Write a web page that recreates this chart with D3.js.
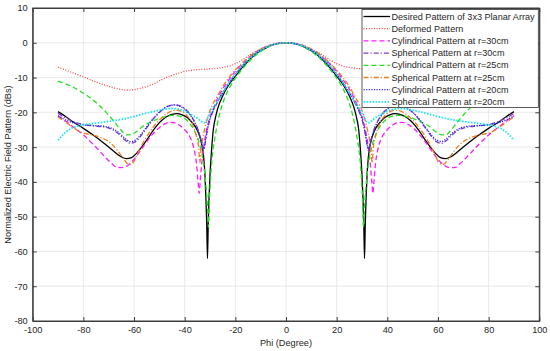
<!DOCTYPE html>
<html>
<head>
<meta charset="utf-8">
<script src="https://cdn.jsdelivr.net/npm/d3@7"></script>
<style>
    body { margin: 0; background: #fff; }
    svg { display: block; }
    text { font-family: Arial, "Liberation Sans", Helvetica, sans-serif; fill: #262626; }
</style>
</head>
<body>
<div id="chart"></div>
<script>
// Values: [phi (deg), normalized field (dB)]
const desired = [[-90,-19.8],[-87,-21.2],[-84,-22.8],[-80,-24.6],[-76,-26.6],[-72,-28.8],[-68,-31.2],[-65,-32.8],[-63,-33.3],[-61,-33],[-59,-31.8],[-57,-30],[-55,-28],[-53,-25.8],[-51,-23.8],[-49,-22.3],[-47,-21.2],[-45,-20.6],[-43,-20.4],[-41,-20.7],[-39,-21.5],[-37,-23],[-35,-25.2],[-33.5,-28.5],[-32.5,-33],[-32,-38],[-31.6,-45],[-31.3,-52],[-31,-62],[-30.7,-52],[-30.4,-45],[-30,-38],[-29.4,-31],[-28.7,-25],[-28,-22],[-27,-19],[-25,-15.3],[-22.5,-12],[-20,-9.6],[-17.5,-7.3],[-15,-5.3],[-12.5,-3.6],[-10,-2.3],[-7.5,-1.3],[-5,-0.55],[-2.5,-0.15],[0,0],
    [2.5,-0.15],[5,-0.55],[7.5,-1.3],[10,-2.3],[12.5,-3.6],[15,-5.3],[17.5,-7.3],[20,-9.6],[22.5,-12],[25,-15.3],[27,-19],[28,-22],[28.7,-25],[29.4,-31],[30,-38],[30.4,-45],[30.7,-52],[31,-62],[31.3,-52],[31.6,-45],[32,-38],[32.5,-33],[33.5,-28.5],[35,-25.2],[37,-23],[39,-21.5],[41,-20.7],[43,-20.4],[45,-20.6],[47,-21.2],[49,-22.3],[51,-23.8],[53,-25.8],[55,-28],[57,-30],[59,-31.8],[61,-33],[63,-33.3],[65,-32.8],[68,-31.2],[72,-28.8],[76,-26.6],[80,-24.6],[84,-22.8],[87,-21.2],[90,-19.8]];

const deformed = [[-90,-7],[-85,-8.4],[-80,-9.8],[-75,-11.3],[-70,-12.5],[-66,-13.3],[-62,-13.6],[-58,-13.2],[-55,-12.6],[-52,-11.7],[-49,-10.6],[-46,-9.6],[-43,-8.9],[-40,-8.2],[-36,-7.8],[-32,-7.6],[-28,-7.4],[-25,-7.1],[-22,-6.6],[-20,-6],[-17.5,-5],[-15,-3.8],[-12.5,-2.7],[-10,-1.8],[-7.5,-1],[-5,-0.45],[-2.5,-0.1],[0,0],
    [2.5,-0.1],[5,-0.45],[7.5,-1],[10,-1.8],[12.5,-2.7],[15,-3.8],[17.5,-5],[20,-6],[22,-6.6],[25,-7.1],[28,-7.4],[32,-7.6],[36,-7.8],[40,-8.2],[43,-8.9],[46,-9.6],[49,-10.6],[52,-11.7],[55,-12.6],[58,-13.2],[62,-13.6],[66,-13.3],[70,-12.5],[75,-11.3],[80,-9.8],[85,-8.4],[90,-7]];

const cyl30 = [[-90,-21],[-87,-22.5],[-84,-24.2],[-80,-26.5],[-76,-29.3],[-72,-32.4],[-69,-34.6],[-66.5,-35.9],[-64,-35.8],[-62,-35],[-60,-33.5],[-58,-31.6],[-56,-29.5],[-54,-27.5],[-52,-25.8],[-50,-24.4],[-48,-23.4],[-46,-22.9],[-44,-23],[-42,-23.7],[-40,-25],[-38,-27],[-36.5,-30],[-35.3,-35],[-34.7,-40],[-34.3,-43.3],[-33.9,-40],[-33.3,-35],[-32.5,-30],[-31.5,-25.5],[-30.3,-22],[-29,-19.5],[-27,-16],[-25,-13.3],[-22.5,-10.6],[-20,-8.2],[-17.5,-6.2],[-15,-4.5],[-12.5,-3],[-10,-1.9],[-7.5,-1],[-5,-0.45],[-2.5,-0.1],[0,0],
    [2.5,-0.1],[5,-0.45],[7.5,-1],[10,-1.9],[12.5,-3],[15,-4.5],[17.5,-6.2],[20,-8.2],[22.5,-10.6],[25,-13.3],[27,-16],[29,-19.5],[30.3,-22],[31.5,-25.5],[32.5,-30],[33.3,-35],[33.9,-40],[34.3,-43.3],[34.7,-40],[35.3,-35],[36.5,-30],[38,-27],[40,-25],[42,-23.7],[44,-23],[46,-22.9],[48,-23.4],[50,-24.4],[52,-25.8],[54,-27.5],[56,-29.5],[58,-31.6],[60,-33.5],[62,-35],[64,-35.8],[66.5,-35.9],[69,-34.6],[72,-32.4],[76,-29.3],[80,-26.5],[84,-24.2],[87,-22.5],[90,-21]];

const sph30 = [[-90,-20.3],[-87,-21.6],[-84,-22.6],[-80,-23.5],[-76,-23.9],[-72,-24.2],[-69,-24.8],[-66,-26.2],[-63.5,-28],[-61.5,-28.9],[-59.5,-28.5],[-57.5,-27],[-55,-24.5],[-52,-21.6],[-49,-19.4],[-46.5,-18.2],[-44,-17.8],[-41.5,-18.2],[-39,-19.6],[-37,-21.5],[-35,-24.5],[-33.5,-28],[-32.5,-31],[-31.8,-28.5],[-31,-25],[-30,-22],[-28.5,-19.2],[-27,-17],[-25,-14.5],[-22.5,-11.6],[-20,-9.1],[-17.5,-6.9],[-15,-5],[-12.5,-3.4],[-10,-2.1],[-7.5,-1.2],[-5,-0.5],[-2.5,-0.13],[0,0],
    [2.5,-0.13],[5,-0.5],[7.5,-1.2],[10,-2.1],[12.5,-3.4],[15,-5],[17.5,-6.9],[20,-9.1],[22.5,-11.6],[25,-14.5],[27,-17],[28.5,-19.2],[30,-22],[31,-25],[31.8,-28.5],[32.5,-31],[33.5,-28],[35,-24.5],[37,-21.5],[39,-19.6],[41.5,-18.2],[44,-17.8],[46.5,-18.2],[49,-19.4],[52,-21.6],[55,-24.5],[57.5,-27],[59.5,-28.5],[61.5,-28.9],[63.5,-28],[66,-26.2],[69,-24.8],[72,-24.2],[76,-23.9],[80,-23.5],[84,-22.6],[87,-21.6],[90,-20.3]];

const cyl25 = [[-90,-11],[-87,-11.8],[-84,-12.8],[-80,-14.5],[-77,-16],[-74,-17.8],[-71,-20],[-68,-22.5],[-65.5,-24.8],[-63,-26.5],[-61,-26.4],[-59,-25.5],[-56.5,-24],[-54,-23],[-51,-22],[-48,-21.3],[-45,-20.9],[-42.5,-21],[-40,-21.8],[-38,-23.2],[-36,-25.5],[-34,-29.5],[-32.5,-35],[-31.5,-42],[-31,-47],[-30.6,-53],[-30.2,-45],[-29.7,-38],[-29,-32],[-28,-27],[-27,-23],[-25.5,-18.6],[-24,-15.5],[-22,-12.5],[-20,-10.2],[-17.5,-7.8],[-15,-5.7],[-12.5,-3.9],[-10,-2.5],[-7.5,-1.4],[-5,-0.6],[-2.5,-0.15],[0,0],
    [2.5,-0.15],[5,-0.6],[7.5,-1.4],[10,-2.5],[12.5,-3.9],[15,-5.7],[17.5,-7.8],[20,-10.2],[22,-12.5],[24,-15.5],[25.5,-18.6],[27,-23],[28,-27],[29,-32],[29.7,-38],[30.2,-45],[30.6,-53],[31,-47],[31.5,-42],[32.5,-35],[34,-29.5],[36,-25.5],[38,-23.2],[40,-21.8],[42.5,-21],[45,-20.9],[48,-21.3],[51,-22],[54,-23],[56.5,-24],[59,-25.5],[61,-26.4],[63,-26.5],[65.5,-24.8],[68,-22.5],[71,-20],[74,-17.8],[77,-16],[80,-14.5],[84,-12.8],[87,-11.8],[90,-11]];

const sph25 = [[-90,-21.3],[-87,-22.8],[-84,-24.4],[-81,-25.7],[-78,-26.3],[-75,-26.8],[-72,-27.6],[-69,-29],[-66.5,-31],[-64,-33.5],[-62,-35],[-60.5,-34.6],[-59,-32.5],[-57,-29.5],[-55,-27],[-52.5,-24.3],[-50,-22.2],[-47.5,-20.6],[-45,-19.6],[-43,-19.4],[-41,-19.8],[-39,-21],[-37,-23.2],[-35.5,-26.5],[-34.5,-30],[-34,-34.5],[-33.6,-31],[-33,-28],[-32,-24.5],[-30.5,-20.5],[-29,-17.8],[-27,-15.2],[-25,-12.6],[-22.5,-10],[-20,-7.8],[-17.5,-6],[-15,-4.3],[-12.5,-2.9],[-10,-1.8],[-7.5,-1],[-5,-0.45],[-2.5,-0.1],[0,0],
    [2.5,-0.1],[5,-0.45],[7.5,-1],[10,-1.8],[12.5,-2.9],[15,-4.3],[17.5,-6],[20,-7.8],[22.5,-10],[25,-12.6],[27,-15.2],[29,-17.8],[30.5,-20.5],[32,-24.5],[33,-28],[33.6,-31],[34,-34.5],[34.5,-30],[35.5,-26.5],[37,-23.2],[39,-21],[41,-19.8],[43,-19.4],[45,-19.6],[47.5,-20.6],[50,-22.2],[52.5,-24.3],[55,-27],[57,-29.5],[59,-32.5],[60.5,-34.6],[62,-35],[64,-33.5],[66.5,-31],[69,-29],[72,-27.6],[75,-26.8],[78,-26.3],[81,-25.7],[84,-24.4],[87,-22.8],[90,-21.3]];

const cyl20 = [[-90,-21],[-87,-22.2],[-84,-23],[-80,-23.6],[-76,-23.8],[-72,-24],[-69,-24.5],[-66,-25.8],[-63.5,-27.5],[-61.5,-28.4],[-59.5,-28],[-57.5,-26.6],[-55,-24.2],[-52,-21.4],[-49,-19.3],[-46.5,-18.2],[-44,-17.9],[-41.5,-18.4],[-39,-19.8],[-37,-21.7],[-35,-24.6],[-33.5,-28],[-32.6,-30.5],[-31.8,-28],[-31,-24.8],[-30,-21.8],[-28.5,-19],[-27,-16.8],[-25,-14.3],[-22.5,-11.5],[-20,-9],[-17.5,-6.8],[-15,-4.9],[-12.5,-3.3],[-10,-2.1],[-7.5,-1.2],[-5,-0.5],[-2.5,-0.13],[0,0],
    [2.5,-0.13],[5,-0.5],[7.5,-1.2],[10,-2.1],[12.5,-3.3],[15,-4.9],[17.5,-6.8],[20,-9],[22.5,-11.5],[25,-14.3],[27,-16.8],[28.5,-19],[30,-21.8],[31,-24.8],[31.8,-28],[32.6,-30.5],[33.5,-28],[35,-24.6],[37,-21.7],[39,-19.8],[41.5,-18.4],[44,-17.9],[46.5,-18.2],[49,-19.3],[52,-21.4],[55,-24.2],[57.5,-26.6],[59.5,-28],[61.5,-28.4],[63.5,-27.5],[66,-25.8],[69,-24.5],[72,-24],[76,-23.8],[80,-23.6],[84,-23],[87,-22.2],[90,-21]];

const sph20 = [[-90,-28],[-88.5,-26.8],[-87,-25.7],[-85,-24.7],[-82.5,-24],[-80,-23.6],[-76,-23.2],[-72,-22.8],[-68,-22.4],[-64,-21.9],[-60,-21.2],[-56,-20.4],[-52,-19.7],[-48,-19.1],[-45,-18.9],[-42.5,-19.1],[-40,-19.7],[-37.5,-20.6],[-35,-21.7],[-33.5,-22.6],[-32.5,-23],[-31.5,-22.3],[-30.5,-21],[-29,-19],[-27,-16.8],[-25,-14.3],[-22.5,-11.5],[-20,-9],[-17.5,-6.8],[-15,-4.9],[-12.5,-3.3],[-10,-2.1],[-7.5,-1.2],[-5,-0.5],[-2.5,-0.13],[0,0],
    [2.5,-0.13],[5,-0.5],[7.5,-1.2],[10,-2.1],[12.5,-3.3],[15,-4.9],[17.5,-6.8],[20,-9],[22.5,-11.5],[25,-14.3],[27,-16.8],[29,-19],[30.5,-21],[31.5,-22.3],[32.5,-23],[33.5,-22.6],[35,-21.7],[37.5,-20.6],[40,-19.7],[42.5,-19.1],[45,-18.9],[48,-19.1],[52,-19.7],[56,-20.4],[60,-21.2],[64,-21.9],[68,-22.4],[72,-22.8],[76,-23.2],[80,-23.6],[82.5,-24],[85,-24.7],[87,-25.7],[88.5,-26.8],[90,-28]];

const seriesNames = [
    'Desired Pattern of 3x3 Planar Array',
    'Deformed Pattern',
    'Cylindrical Pattern at r=30cm',
    'Spherical Pattern at r=30cm',
    'Cylindrical Pattern at r=25cm',
    'Spherical Pattern at r=25cm',
    'Cylindrical Pattern at r=20cm',
    'Spherical Pattern at r=20cm'
];
const seriesData = [desired, deformed, cyl30, sph30, cyl25, sph25, cyl20, sph20];

const xTicks = [-100, -80, -60, -40, -20, 0, 20, 40, 60, 80, 100];
const yTicks = [10, 0, -10, -20, -30, -40, -50, -60, -70, -80];

// styles, kept apart from the data
const colors = ['#000000', '#ff3b3b', '#ff1aff', '#7e3fc6', '#22e022', '#ef7d1c', '#2a2af0', '#14e6f0'];
const dashes = [null, '1,1.6', '5,3', '5,2,1.2,2', '5,3', '5,2,1.2,2', '1.2,1.4', '1.5,1.5'];
const widths = [1.3, 1.2, 1.3, 1.3, 1.3, 1.3, 1.3, 1.8];

const width = 550, height = 351;
const margin = { top: 8, right: 10.7, bottom: 30, left: 32.7 };

const svg = d3.select('#chart').append('svg')
    .attr('width', width)
    .attr('height', height);

const x = d3.scaleLinear().domain([-100, 100]).range([margin.left, width - margin.right]);
const y = d3.scaleLinear().domain([-80, 10]).range([height - margin.bottom, margin.top]);

const x0 = x.range()[0], x1 = x.range()[1];
const y0 = y.range()[0], y1 = y.range()[1];

// Grid
const grid = svg.append('g').attr('stroke', '#e3e3e3').attr('stroke-width', 0.8);
grid.selectAll('.gx').data(xTicks.slice(1, -1)).join('line')
    .attr('x1', d => x(d)).attr('x2', d => x(d))
    .attr('y1', y1).attr('y2', y0);
grid.selectAll('.gy').data(yTicks.slice(1, -1)).join('line')
    .attr('y1', d => y(d)).attr('y2', d => y(d))
    .attr('x1', x0).attr('x2', x1);

// Curves
svg.append('defs').append('clipPath').attr('id', 'plot-clip')
    .append('rect').attr('x', x0).attr('y', y1).attr('width', x1 - x0).attr('height', y0 - y1);

const line = d3.line()
    .x(d => x(d[0]))
    .y(d => y(d[1]))
    .curve(d3.curveMonotoneX);

svg.append('g').attr('clip-path', 'url(#plot-clip)')
    .selectAll('path')
    .data(seriesData)
    .join('path')
    .attr('fill', 'none')
    .attr('stroke', (d, i) => colors[i])
    .attr('stroke-width', (d, i) => widths[i])
    .attr('stroke-dasharray', (d, i) => dashes[i])
    .attr('d', line);

// Axes (ticks inside, on all four sides); plain hyphen for negatives
const axisColor = '#3d3d3d';
const tickLen = 4;
const fmt = d => String(d);

svg.append('g')
    .attr('transform', `translate(0,${y0})`)
    .call(d3.axisBottom(x).tickValues(xTicks).tickFormat(fmt).tickSizeInner(-tickLen).tickSizeOuter(0).tickPadding(5));
svg.append('g')
    .attr('transform', `translate(${x0},0)`)
    .call(d3.axisLeft(y).tickValues(yTicks).tickFormat(fmt).tickSizeInner(-tickLen).tickSizeOuter(0).tickPadding(5));
svg.append('g')
    .attr('transform', `translate(0,${y1})`)
    .call(d3.axisTop(x).tickValues(xTicks).tickSizeInner(-tickLen).tickSizeOuter(0).tickFormat(''));
svg.append('g')
    .attr('transform', `translate(${x1},0)`)
    .call(d3.axisRight(y).tickValues(yTicks).tickSizeInner(-tickLen).tickSizeOuter(0).tickFormat(''));

svg.selectAll('.domain').attr('stroke', axisColor);
svg.selectAll('.tick line').attr('stroke', axisColor);
svg.selectAll('.tick text')
    .attr('font-size', 9.2)
    .attr('font-family', 'Arial, "Liberation Sans", sans-serif')
    .attr('fill', '#1a1a1a');

svg.append('rect')
    .attr('x', x0).attr('y', y1)
    .attr('width', x1 - x0).attr('height', y0 - y1)
    .attr('fill', 'none')
    .attr('stroke', axisColor)
    .attr('stroke-width', 1);

// Axis labels
svg.append('text')
    .attr('x', (x0 + x1) / 2)
    .attr('y', 345.5)
    .attr('text-anchor', 'middle')
    .attr('font-size', 9.2)
    .text('Phi (Degree)');

svg.append('text')
    .attr('transform', `translate(10.5,${(y0 + y1) / 2}) rotate(-90)`)
    .attr('text-anchor', 'middle')
    .attr('font-size', 9.2)
    .text('Normalized Electric Field Pattern (dBs)');

// Legend
const legend = svg.append('g');
legend.append('rect')
    .attr('x', 362).attr('y', 9.5)
    .attr('width', 176.3).attr('height', 98)
    .attr('fill', '#fff')
    .attr('stroke', '#333')
    .attr('stroke-width', 0.8);

const item = legend.selectAll('g.item')
    .data(seriesNames)
    .join('g')
    .attr('class', 'item')
    .attr('transform', (d, i) => `translate(0,${16.5 + i * 12.2})`);

item.append('line')
    .attr('x1', 363.5).attr('x2', 390)
    .attr('stroke', (d, i) => colors[i])
    .attr('stroke-width', (d, i) => widths[i])
    .attr('stroke-dasharray', (d, i) => dashes[i]);

item.append('text')
    .attr('x', 391.5)
    .attr('dy', '0.35em')
    .attr('font-size', 9.1)
    .text(d => d);
</script>
</body>
</html>
